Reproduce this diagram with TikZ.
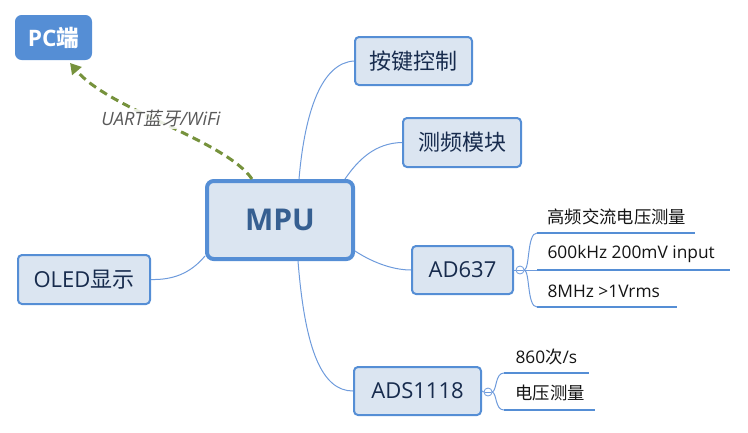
\documentclass[tikz,border=0pt]{standalone}
\usepackage{fontspec}
\setmainfont{Open Sans}
\newfontfamily\cjk{Noto Sans CJK SC}[AutoFakeSlant=0.2]
\usetikzlibrary{arrows.meta}

\tikzset{every picture/.style={line width=0.75pt}}
\tikzset{
  topic/.style={draw={rgb, 255:red, 85; green, 142; blue, 213}, fill={rgb, 255:red, 219; green, 229; blue, 241}, line width=1.5pt, rounded corners=3pt, inner sep=0pt, text={rgb, 255:red, 23; green, 43; blue, 77}, font=\fontsize{16.5}{20}\selectfont},
  branch/.style={color={rgb, 255:red, 110; green, 155; blue, 220}, line width=0.75pt},
  subline/.style={color={rgb, 255:red, 85; green, 142; blue, 213}, line width=2pt},
  subtext/.style={anchor=west, inner sep=0.75pt, text={rgb, 255:red, 20; green, 20; blue, 20}, font=\fontsize{13}{15}\selectfont},
  knob/.style={circle, draw={rgb, 255:red, 110; green, 155; blue, 220}, fill=white, line width=0.6pt, minimum size=6pt, inner sep=0pt},
  link/.style={color={rgb, 255:red, 118; green, 146; blue, 60}, line width=2.25pt, dash pattern=on 6pt off 3.75pt}
}

\begin{document}
\begin{tikzpicture}[x=0.75pt,y=0.75pt,yscale=-1,xscale=1]
\useasboundingbox (0,0) rectangle (748,432);

% Main topic
\node [topic, line width=3pt, rounded corners=5pt, minimum width=109.5pt, minimum height=58.5pt, text={rgb, 255:red, 54; green, 95; blue, 145}, font=\fontsize{22.5}{26}\selectfont\bfseries] (mpu) at (280,220) {MPU};
% PC node
\node [topic, draw=none, fill={rgb, 255:red, 85; green, 142; blue, 213}, rounded corners=5pt, minimum width=57.75pt, minimum height=33.75pt, text=white, font=\fontsize{17}{20}\selectfont\bfseries] (pc) at (53.5,37.5) {PC{\cjk 端}};

% Sub topics
\node [topic, minimum width=87.75pt, minimum height=36pt] (key) at (413.5,61) {\cjk 按键控制};
\node [topic, minimum width=88.5pt, minimum height=36.75pt] (freq) at (462,142.5) {\cjk 测频模块};
\node [topic, minimum width=75.75pt, minimum height=36pt] (ad) at (462.5,270) {AD637};
\node [topic, minimum width=95.25pt, minimum height=36pt] (ads) at (417.5,391) {ADS1118};
\node [topic, minimum width=99pt, minimum height=36.75pt] (oled) at (84,279.5) {OLED{\cjk 显示}};

% Curve Lines
\draw [branch] ([xshift=14.25pt]mpu.north) .. controls (305,110) and (322,63) .. (key.west);
\draw [branch] ([xshift=-7.5pt]mpu.north east) .. controls (358,160) and (375,143) .. (freq.west);
\draw [branch] ([yshift=-7.5pt]mpu.south east) .. controls (375,264) and (395,270) .. (ad.west);
\draw [branch] ([xshift=13.5pt]mpu.south) .. controls (305,350) and (322,391) .. (ads.west);
\draw [branch] ([yshift=-3.75pt]mpu.south west) .. controls (190,274) and (172,280) .. (oled.east);

% Dashed arrow to PC
\draw [link, -{Triangle[length=8pt,width=9pt]}] ([xshift=-21pt]mpu.north) .. controls (225,140) and (110,110) .. ([xshift=12.4pt,yshift=1.5pt]pc.south);
\node [fill=white, fill opacity=0.85, text opacity=1, inner sep=1pt, text={rgb, 255:red, 89; green, 89; blue, 89}, font=\fontsize{13.75}{16}\selectfont\itshape] (lbl) at (161,119) {UART{\cjk 蓝牙}/WiFi};

% AD637 details
\node [knob] (k1) at (520,270) {};
\draw [branch] (ad.east) -- (k1.west);
\draw [branch, line width=0.5pt] ([xshift=-2pt]k1.center) -- ([xshift=2pt]k1.center);
\coordinate (a1) at (537,233);
\coordinate (a2) at (537,270);
\coordinate (a3) at (537,307);
\coordinate (b1) at (695,233);
\coordinate (b2) at (730,270);
\coordinate (b3) at (677,307);
\draw [branch] (k1.east) .. controls (530,268) and (527,233) .. (a1);
\draw [branch] (k1.east) -- (a2);
\draw [branch] (k1.east) .. controls (530,272) and (527,307) .. (a3);
\draw [subline] (a1) -- (b1);
\draw [subline] (a2) -- (b2);
\draw [subline] (a3) -- (b3);

% Text Node
\node [subtext] (t1) at (546,217) {\cjk 高频交流电压测量};
\node [subtext] (t2) at (546,254) {600kHz 200mV input};
\node [subtext] (t3) at (546,291) {8MHz >1Vrms};

% ADS1118 details
\node [knob] (k2) at (488,392) {};
\draw [branch] (ads.east) -- (k2.west);
\draw [branch, line width=0.5pt] ([xshift=-2pt]k2.center) -- ([xshift=2pt]k2.center);
\coordinate (c1) at (504,373);
\coordinate (c2) at (504,410);
\coordinate (d1) at (589,373);
\coordinate (d2) at (595,410);
\draw [branch] (k2.east) .. controls (497,390) and (495,373) .. (c1);
\draw [branch] (k2.east) .. controls (497,394) and (495,410) .. (c2);
\draw [subline] (c1) -- (d1);
\draw [subline] (c2) -- (d2);

% Text Node
\node [subtext] (t4) at (514,357) {860{\cjk 次}/s};
\node [subtext] (t5) at (514,393) {\cjk 电压测量};

\end{tikzpicture}
\end{document}
